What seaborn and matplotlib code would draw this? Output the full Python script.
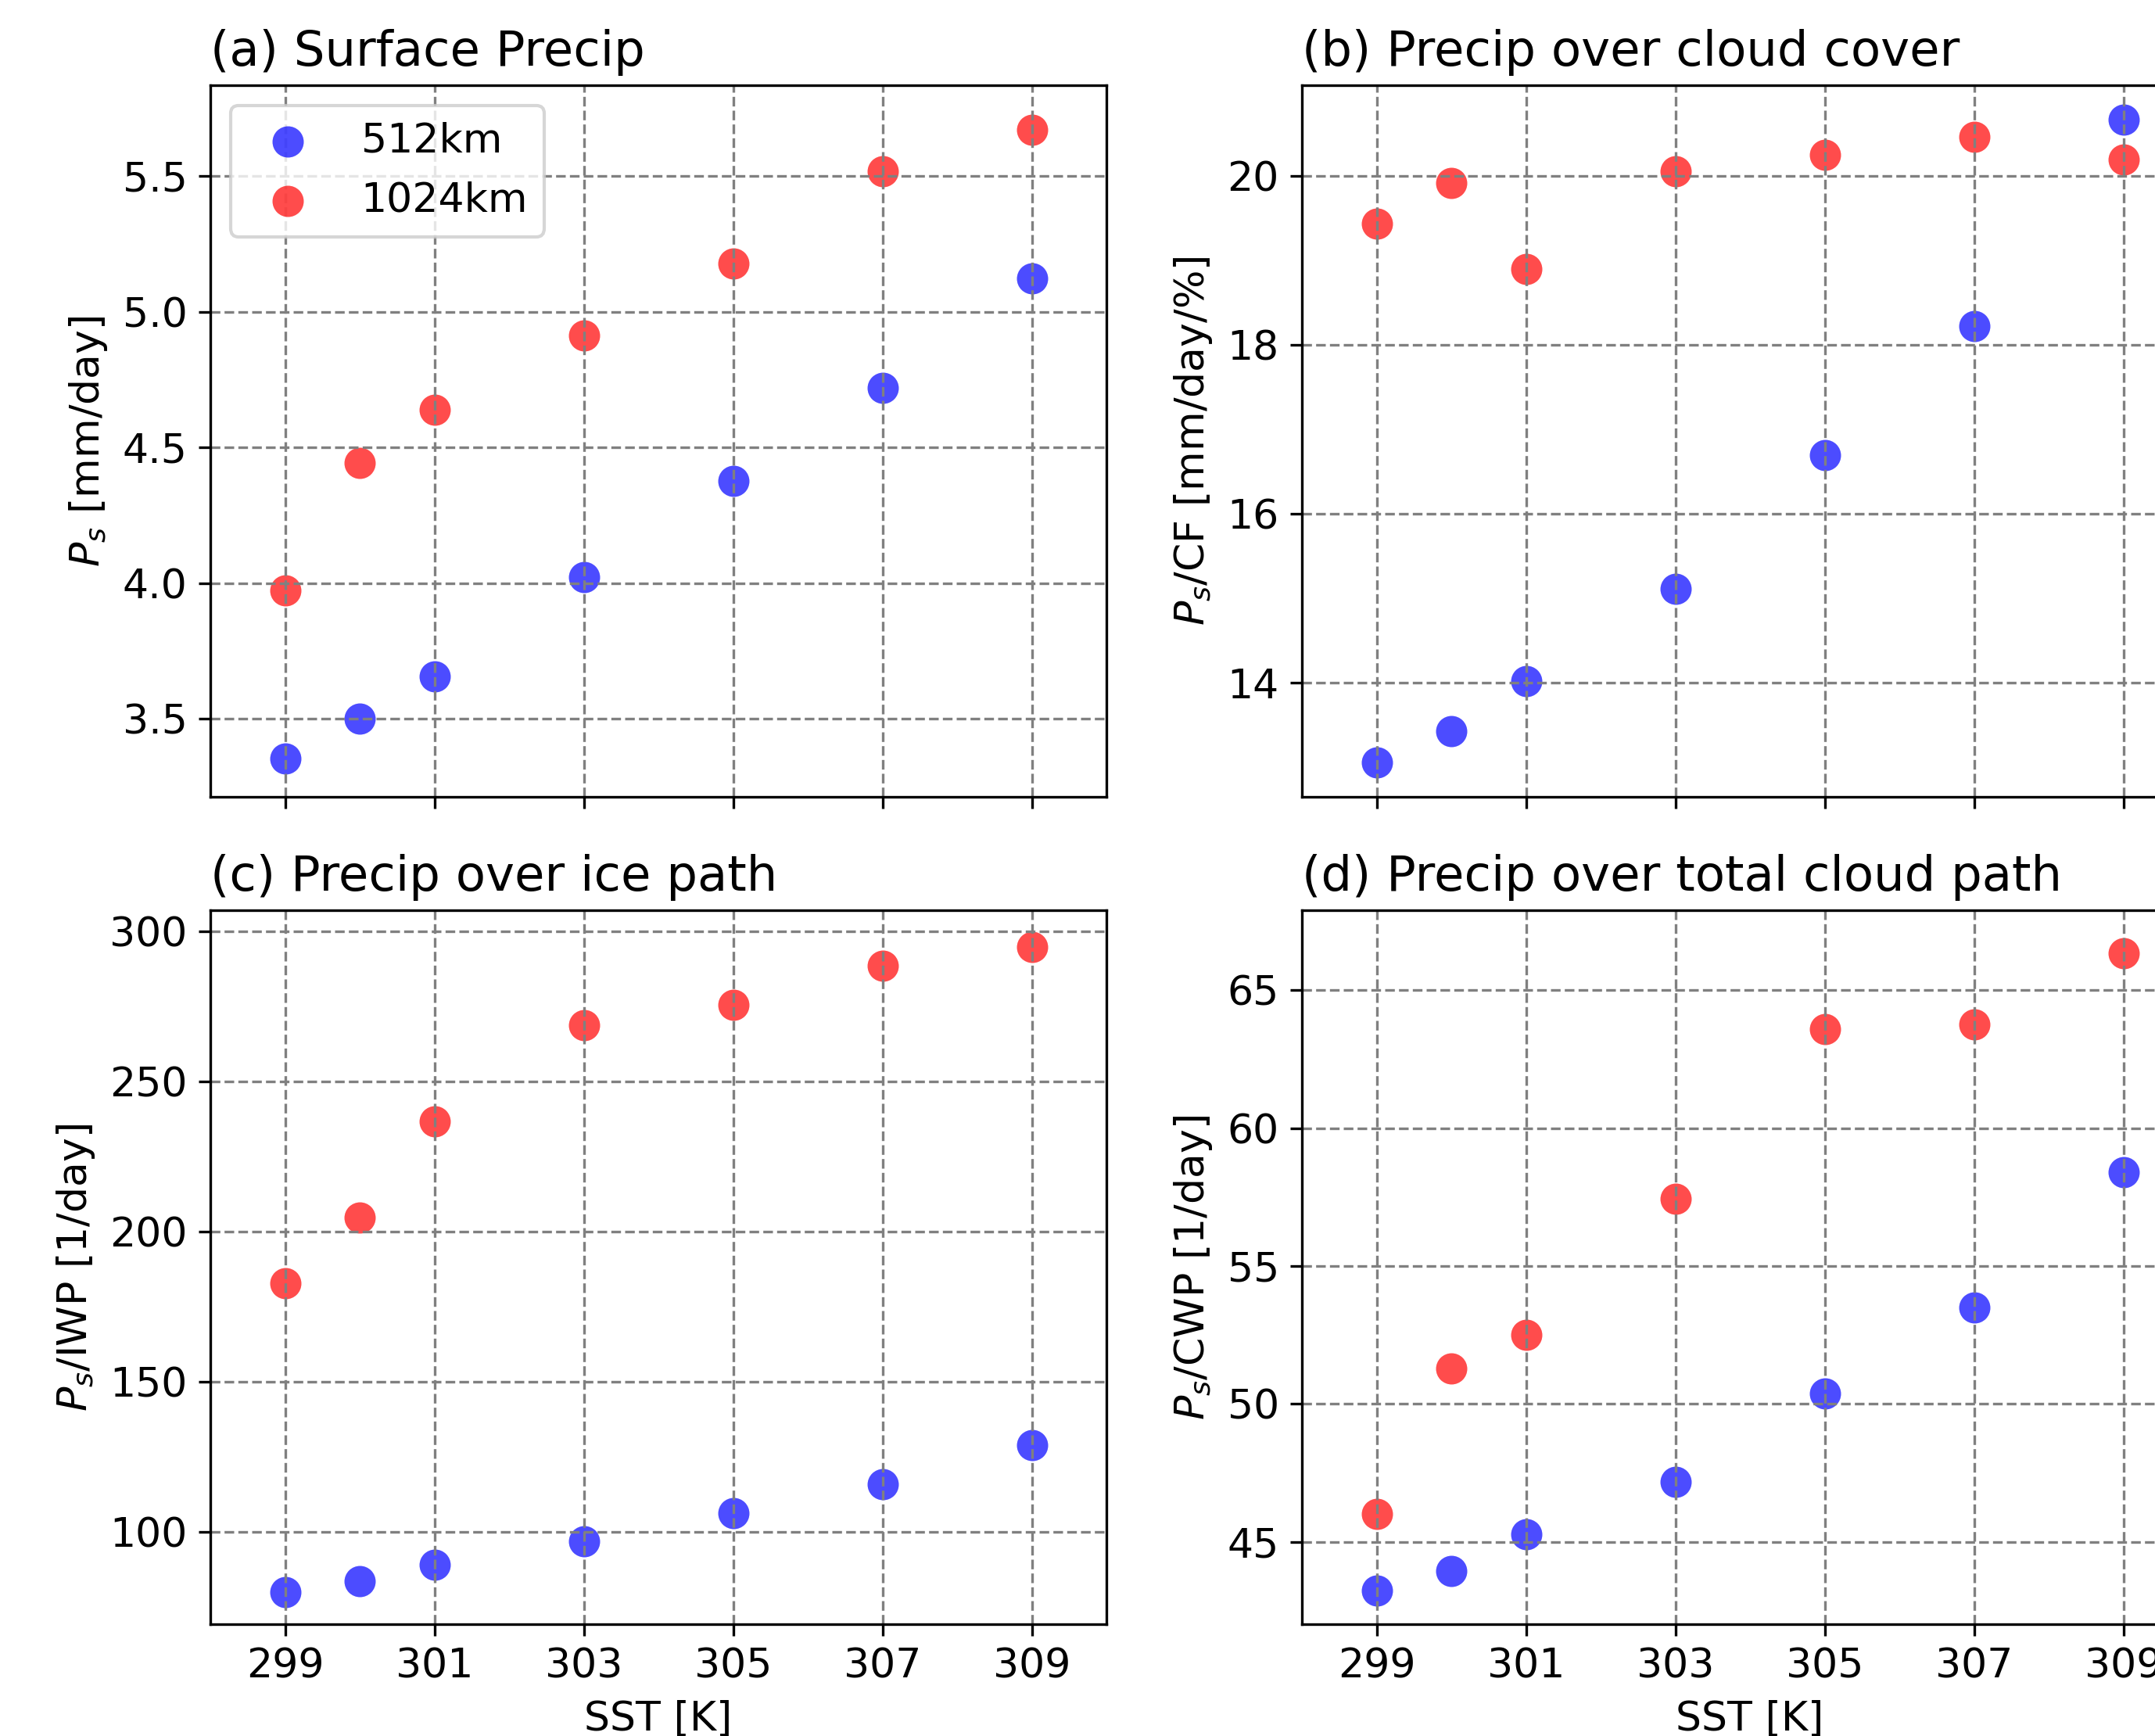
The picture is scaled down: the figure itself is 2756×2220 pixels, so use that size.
import numpy as np
import pandas as pd
import matplotlib
matplotlib.use("Agg")
import matplotlib.pyplot as plt
import seaborn as sns

# ---- data ----
sst = [299, 300, 301, 303, 305, 307, 309]
labels = ["512km", "1024km"]
colors = {"512km": "blue", "1024km": "red"}

precip_512 = [3.355, 3.50, 3.656, 4.022, 4.376, 4.721, 5.124]
precip_1024 = [3.974, 4.444, 4.638, 4.912, 5.177, 5.519, 5.670]

p_cf_512 = [13.06, 13.43, 14.02, 15.11, 16.70, 18.22, 20.67]
p_cf_1024 = [19.44, 19.92, 18.90, 20.06, 20.25, 20.46, 20.20]

p_iwp_512 = [80.1, 83.8, 89.2, 96.9, 106.3, 115.9, 129.1]
p_iwp_1024 = [182.8, 204.6, 236.6, 268.6, 275.5, 288.5, 294.8]

p_cwp_512 = [43.22, 43.94, 45.27, 47.18, 50.37, 53.49, 58.41]
p_cwp_1024 = [46.02, 51.29, 52.50, 57.45, 63.59, 63.76, 66.34]

xticks = [299, 301, 303, 305, 307, 309]

panels = [
    {"title": "(a) Surface Precip", "ylabel": r"$P_s$ [mm/day]",
     "vals": (precip_512, precip_1024), "ylim": (3.213, 5.835),
     "yticks": [3.5, 4.0, 4.5, 5.0, 5.5], "fmt": "{:.1f}"},
    {"title": "(b) Precip over cloud cover", "ylabel": r"$P_s$/CF [mm/day/%]",
     "vals": (p_cf_512, p_cf_1024), "ylim": (12.65, 21.075),
     "yticks": [14, 16, 18, 20], "fmt": "{:.0f}"},
    {"title": "(c) Precip over ice path", "ylabel": r"$P_s$/IWP [1/day]",
     "vals": (p_iwp_512, p_iwp_1024), "ylim": (69.4, 306.9),
     "yticks": [100, 150, 200, 250, 300], "fmt": "{:.0f}"},
    {"title": "(d) Precip over total cloud path", "ylabel": r"$P_s$/CWP [1/day]",
     "vals": (p_cwp_512, p_cwp_1024), "ylim": (42.01, 67.90),
     "yticks": [45, 50, 55, 60, 65], "fmt": "{:.0f}"},
]

plt.rcParams["font.size"] = 12.5

W, H, DPI = 2756, 2220, 300
fig = plt.figure(figsize=(W / DPI, H / DPI), dpi=DPI)

# axes boxes in pixels (left, top, right, bottom) -> figure fractions
boxes = [(269, 109, 1415, 1019), (1665, 109, 2811, 1019),
         (269, 1164, 1415, 2077), (1665, 1164, 2811, 2077)]

for idx, (p, (l, t, r, b)) in enumerate(zip(panels, boxes)):
    ax = fig.add_axes([l / W, 1 - b / H, (r - l) / W, (b - t) / H])
    for lab, vals in zip(labels, p["vals"]):
        df = pd.DataFrame({"SST": sst, "val": vals})
        sns.scatterplot(data=df, x="SST", y="val", color=colors[lab], s=92,
                        alpha=0.7, linewidth=0, label=lab, ax=ax, legend=False)
    ax.set_xlim(298, 310)
    ax.set_ylim(*p["ylim"])
    ax.set_xticks(xticks)
    ax.set_yticks(p["yticks"])
    ax.set_yticklabels([p["fmt"].format(v) for v in p["yticks"]])
    ax.grid(True, linestyle="--", color="gray", linewidth=0.8)
    ax.set_title(p["title"], loc="left", fontsize=15)
    ax.set_ylabel(p["ylabel"])
    if idx >= 2:
        ax.set_xlabel("SST [K]")
        ax.set_xticklabels([str(x) for x in xticks])
    else:
        ax.set_xlabel("")
        ax.set_xticklabels([])
    if idx == 0:
        ax.legend(loc="upper left")

fig.savefig("out.png", dpi=DPI)
